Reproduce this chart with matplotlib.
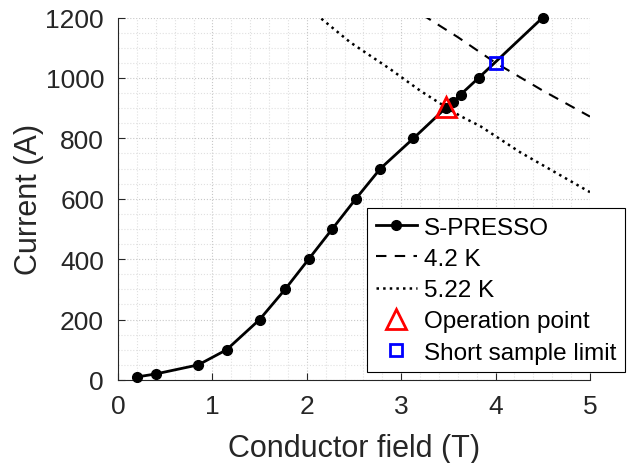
import numpy as np
import matplotlib.pyplot as plt
from matplotlib.ticker import MultipleLocator

plt.rcParams['font.family'] = ['Liberation Sans', 'DejaVu Sans']

# S-PRESSO load line
field = [0.2, 0.4, 0.85, 1.15, 1.5, 1.77, 2.02, 2.27, 2.52, 2.78, 3.13, 3.47, 3.55, 3.63, 3.82, 4.5]
current = [10, 20, 50, 100, 200, 300, 400, 500, 600, 700, 800, 900, 920, 945, 1000, 1200]

# critical current curves
b_42 = [3.22, 3.6, 4.0, 4.5, 5.0]
i_42 = [1210, 1135, 1050, 958, 872]
b_522 = [2.1, 2.46, 2.88, 3.2, 3.34, 3.62, 3.84, 4.26, 4.97, 5.0]
i_522 = [1210, 1118, 1030, 958, 930, 875, 840, 754, 627, 622]

op_b, op_i = [3.48], [905]
ss_b, ss_i = [4.0], [1050]

fig = plt.figure(figsize=(6.32, 4.64), dpi=100)
ax = fig.add_axes([0.1867, 0.1789, 0.7468, 0.7812])

tc = '#262626'
ax.plot(field, current, '-o', color='k', lw=2, ms=7, label='S-PRESSO', clip_on=False, zorder=4)
ax.plot(b_42, i_42, '--', color='k', lw=1.5, dashes=(5, 4), label='4.2 K')
ax.plot(b_522, i_522, ':', color='k', lw=1.8, label='5.22 K')
ax.plot(op_b, op_i, '^', ms=15, mfc='none', mec='red', mew=2, ls='none', label='Operation point', zorder=5)
ax.plot(ss_b, ss_i, 's', ms=9, mfc='none', mec='blue', mew=2, ls='none', label='Short sample limit', zorder=5)

ax.set_xlim(0, 5)
ax.set_ylim(0, 1200)
ax.xaxis.set_major_locator(MultipleLocator(1))
ax.xaxis.set_minor_locator(MultipleLocator(0.2))
ax.yaxis.set_major_locator(MultipleLocator(200))
ax.yaxis.set_minor_locator(MultipleLocator(50))
ax.grid(which='major', ls=':', color='#c8c8c8', lw=0.8)
ax.grid(which='minor', ls=':', color='#e0e0e0', lw=0.8)
ax.set_axisbelow(True)

for s in ['top', 'right']:
    ax.spines[s].set_visible(False)
for s in ['left', 'bottom']:
    ax.spines[s].set_color(tc)
    ax.spines[s].set_linewidth(0.8)
ax.tick_params(which='major', direction='in', length=5, width=0.8, colors=tc, labelsize=19, pad=10)
ax.tick_params(which='minor', length=0)

ax.set_xlabel('Conductor field (T)', fontsize=22, color=tc, labelpad=11)
ax.set_ylabel('Current (A)', fontsize=22, color=tc, labelpad=1)

leg = ax.legend(loc='upper left', bbox_to_anchor=(367 / 632, 1 - 209 / 464), bbox_transform=fig.transFigure,
                fontsize=17.5, numpoints=1, handlelength=1.7, handletextpad=0.3, labelspacing=0.38,
                borderpad=0.35, borderaxespad=0, fancybox=False, framealpha=1, edgecolor='k')
leg.get_frame().set_linewidth(0.8)

fig.savefig('out.png', dpi=100)
